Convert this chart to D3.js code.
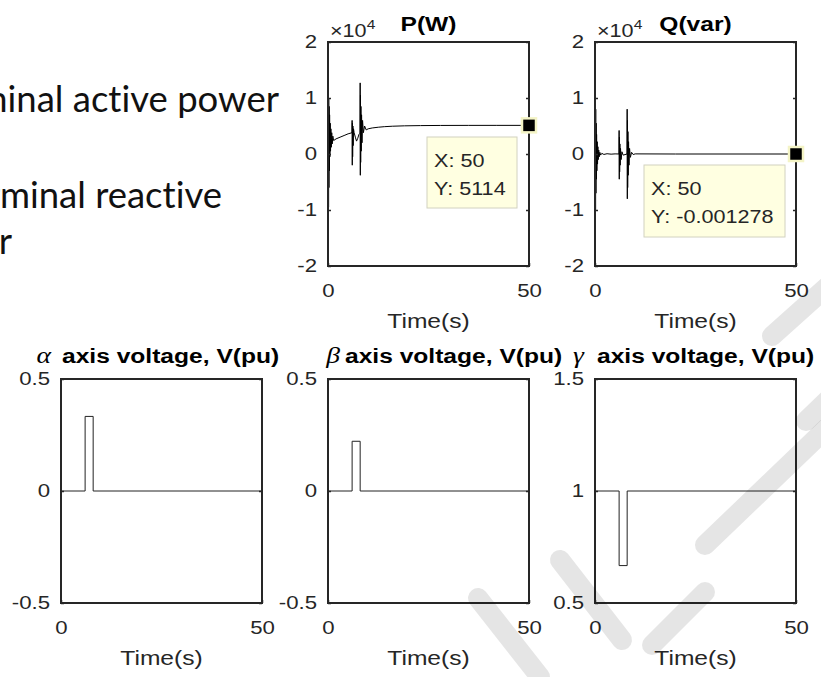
<!DOCTYPE html>
<html>
<head>
<meta charset="utf-8">
<script src="https://cdn.jsdelivr.net/npm/d3@7"></script>
<style>
  html, body { margin: 0; padding: 0; background: #fff; }
  svg { display: block; }
</style>
</head>
<body>
<svg id="fig" width="821" height="677"></svg>
<script>
// ---- simulated terminal quantities ----
// active power P (W)
const pTime = [0, 0.03, 0.06, 0.1, 0.14, 0.18, 0.23, 0.28, 0.34, 0.4, 0.47, 0.55, 0.63, 0.72, 0.82, 0.93, 1.05, 1.2, 1.4,
  2, 3, 4, 5, 5.97, 6.0, 6.04, 6.08, 6.13, 6.19, 6.26, 6.35, 6.5, 6.8, 7.1, 7.4, 7.7, 7.97,
  8.0, 8.04, 8.08, 8.13, 8.19, 8.26, 8.35, 8.46, 8.6, 8.8, 9.1, 9.5, 10, 11, 12.5, 14, 16, 19, 23, 28, 35, 42, 50];
const pValue = [0, 15600, -14100, 12500, -9500, 10000, -6000, 8500, -3000, 7000, -500, 5500, 500, 4500, 1200, 3800, 1800, 3200, 2400,
  2700, 3000, 3300, 3600, 3800, 6000, -2000, 5500, -500, 5000, 1500, 4500, 3800, 3000, 2300, 2800, 3500, 3700,
  12700, -3800, 10500, -1500, 8500, 500, 7000, 2000, 6000, 3800, 5000, 4300, 4500, 4650, 4780, 4880, 4960, 5030, 5070, 5100, 5110, 5113, 5114];
// reactive power Q (var)
const qTime = [0, 0.03, 0.06, 0.1, 0.14, 0.18, 0.23, 0.28, 0.34, 0.4, 0.47, 0.55, 0.63, 0.72, 0.82, 0.93, 1.05, 1.2, 1.4,
  1.7, 2.2, 3, 4, 5, 5.97, 6.0, 6.04, 6.08, 6.13, 6.19, 6.26, 6.35, 6.5, 6.7, 7, 7.97,
  8.0, 8.04, 8.08, 8.13, 8.19, 8.26, 8.35, 8.46, 8.6, 8.8, 9.1, 9.5, 10, 20, 50];
const qValue = [0, 14200, -13500, 11000, -10000, 8000, -7000, 5500, -4500, 3500, -3000, 2200, -1800, 1300, -1000, 700, -500, 300, -200,
  120, -80, 50, -30, 20, 0, 4200, -4500, 3000, -3200, 1800, -2000, 1000, -1000, 400, -200, 0,
  8000, -8000, 6000, -6000, 4000, -3800, 2200, -2000, 1000, -600, 300, -100, 20, 0, -0.001278];

// sequence-axis voltages (pu), stepped during the fault window
const stepTime = [0, 6, 6, 8, 8, 50];
const alphaV = [0, 0, 0.333, 0.333, 0, 0];
const betaV = [0, 0, 0.222, 0.222, 0, 0];
const gammaV = [1, 1, 0.667, 0.667, 1, 1];

// axis ticks
const timeTicks = [0, 50];
const powerTicks = [-2, -1, 0, 1, 2];          // x 10^4
const alphaTicks = [-0.5, 0, 0.5];
const betaTicks = [-0.5, 0, 0.5];
const gammaTicks = [0.5, 1, 1.5];

// ---- figure layout ----
const svg = d3.select("#fig");
const HS = 1.2;                  // horizontal stretch of all figure text
const AX_FONT = "'Liberation Sans', Arial, Helvetica, sans-serif";
const TICK_SIZE = 18.5, TITLE_SIZE = 20.5;
const PW = 201, PH = 224;

// slide text behind the figure
const slideText = svg.append("g")
  .attr("font-family", "Lato, 'Open Sans', sans-serif")
  .style("font-variant-ligatures", "none")
  .attr("font-size", 36.5).attr("fill", "#111").attr("text-anchor", "end");
slideText.append("text").attr("x", 279).attr("y", 112).text("Terminal active power");
slideText.append("text").attr("x", 222).attr("y", 208).text("Terminal reactive");
slideText.append("text").attr("x", 12).attr("y", 254).text("power");

function stretched(sel, x, y) {
  return sel.attr("transform", `translate(${x},${y}) scale(${HS},1)`);
}

const panels = [
  { left: 328, top: 42, time: pTime, value: pValue, domain: [-2e4, 2e4],
    ticks: powerTicks.map(d => d * 1e4), fmt: d => String(d / 1e4),
    title: "P(W)", exponent: true, tip: { x: 427, y: 137, w: 90, h: 71 } },
  { left: 595, top: 42, time: qTime, value: qValue, domain: [-2e4, 2e4],
    ticks: powerTicks.map(d => d * 1e4), fmt: d => String(d / 1e4),
    title: "Q(var)", exponent: true, tip: { x: 644, y: 165, w: 141, h: 72 } },
  { left: 61, top: 379, time: stepTime, value: alphaV, domain: [-0.5, 0.5],
    ticks: alphaTicks, fmt: d => String(d), greek: "\u03B1", titleX: 1, greekGap: 11, stroke: "#222" },
  { left: 328, top: 379, time: stepTime, value: betaV, domain: [-0.5, 0.5],
    ticks: betaTicks, fmt: d => String(d), greek: "\u03B2", titleX: 17, greekGap: 5, stroke: "#222" },
  { left: 595, top: 379, time: stepTime, value: gammaV, domain: [0.5, 1.5],
    ticks: gammaTicks, fmt: d => String(d), greek: "\u03B3", titleX: 2, greekGap: 13, stroke: "#222" }
];

panels.forEach(p => {
  const x = d3.scaleLinear().domain([0, 50]).range([0, PW]);
  const y = d3.scaleLinear().domain(p.domain).range([PH, 0]);
  const g = svg.append("g").attr("transform", `translate(${p.left},${p.top})`);

  g.append("rect").attr("width", PW).attr("height", PH).attr("fill", "#fff");

  // data trace
  const line = d3.line().x(i => x(p.time[i])).y(i => y(p.value[i]));
  g.append("path")
    .attr("d", line(d3.range(p.time.length)))
    .attr("fill", "none")
    .attr("stroke", p.stroke || "#000")
    .attr("stroke-width", 1)
    .attr("stroke-linejoin", "miter");

  // axes with inward ticks
  const yl = g.append("g")
    .call(d3.axisLeft(y).tickValues(p.ticks).tickFormat(p.fmt).tickSize(-3).tickSizeOuter(0));
  const yr = g.append("g").attr("transform", `translate(${PW},0)`)
    .call(d3.axisRight(y).tickValues(p.ticks).tickFormat("").tickSize(-3).tickSizeOuter(0));
  const xb = g.append("g").attr("transform", `translate(0,${PH})`)
    .call(d3.axisBottom(x).tickValues(timeTicks).tickSize(-3).tickSizeOuter(0).tickPadding(18));
  [yl, yr, xb].forEach(a => {
    a.select(".domain").remove();
    a.selectAll("line").attr("stroke", "#262626").attr("stroke-width", 1.5);
    a.attr("font-family", AX_FONT).attr("font-size", TICK_SIZE);
    a.selectAll("text").attr("fill", "#262626");
  });
  yl.selectAll("text").attr("x", -11 / HS).attr("transform", `scale(${HS},1)`);
  xb.selectAll("text").attr("transform", `scale(${HS},1)`);

  // frame
  g.append("rect").attr("width", PW).attr("height", PH)
    .attr("fill", "none").attr("stroke", "#262626").attr("stroke-width", 2);

  // x label
  stretched(g.append("text"), PW / 2, PH + 62)
    .attr("text-anchor", "middle").attr("font-family", AX_FONT)
    .attr("font-size", TITLE_SIZE).attr("fill", "#262626").text("Time(s)");

  // title
  if (p.greek) {
    stretched(g.append("text"), p.titleX, -16)
      .attr("font-family", AX_FONT).attr("font-size", TITLE_SIZE)
      .attr("font-weight", "bold").attr("fill", "#000")
      .text("axis voltage, V(pu)");
    stretched(g.append("text"), p.titleX - p.greekGap, -16)
      .attr("text-anchor", "end")
      .attr("font-family", "'Liberation Serif', 'DejaVu Serif', serif")
      .attr("font-style", "italic").attr("font-size", 23).attr("fill", "#000")
      .text(p.greek);
  } else {
    stretched(g.append("text"), PW / 2, -11)
      .attr("text-anchor", "middle").attr("font-family", AX_FONT)
      .attr("font-size", TITLE_SIZE).attr("font-weight", "bold").attr("fill", "#000")
      .text(p.title);
  }

  // power exponent
  if (p.exponent) {
    const e = stretched(g.append("text"), 2, -5)
      .attr("font-family", AX_FONT).attr("font-size", 18).attr("fill", "#262626");
    e.append("tspan").text("\u00D710");
    e.append("tspan").attr("font-size", 13).attr("dy", -8).text("4");
  }

  // data tip on the final sample
  if (p.tip) {
    const n = p.time.length - 1;
    const tx = p.time[n], ty = p.value[n];
    const tip = svg.append("g");
    tip.append("rect")
      .attr("x", p.tip.x).attr("y", p.tip.y).attr("width", p.tip.w).attr("height", p.tip.h)
      .attr("fill", "#ffffe1").attr("stroke", "#d2d2c0").attr("stroke-width", 1);
    const tt = tip.append("g").attr("font-family", AX_FONT).attr("font-size", 18).attr("fill", "#262626");
    stretched(tt.append("text"), p.tip.x + 7, p.tip.y + 30).text(`X: ${tx}`);
    stretched(tt.append("text"), p.tip.x + 7, p.tip.y + 58).text(`Y: ${ty}`);
    g.append("rect")
      .attr("x", x(tx) - 7).attr("y", y(ty) - 7).attr("width", 14).attr("height", 14)
      .attr("fill", "#000").attr("stroke", "#f4f4c6").attr("stroke-width", 2.5);
  }
});

// faint page watermark strokes over the lower-right corner
const watermark = [
  [[806, 421], [840, 388]],
  [[478, 598], [540, 677]],
  [[560, 560], [622, 640]],
  [[652, 645], [705, 592]],
  [[705, 545], [830, 425]],
  [[772, 336], [830, 284]]
];
svg.append("g")
  .attr("fill", "none").attr("stroke", "#000").attr("stroke-opacity", 0.1)
  .attr("stroke-width", 20).attr("stroke-linecap", "round")
  .selectAll("path").data(watermark).join("path")
  .attr("d", d => d3.line()(d));
</script>
</body>
</html>
